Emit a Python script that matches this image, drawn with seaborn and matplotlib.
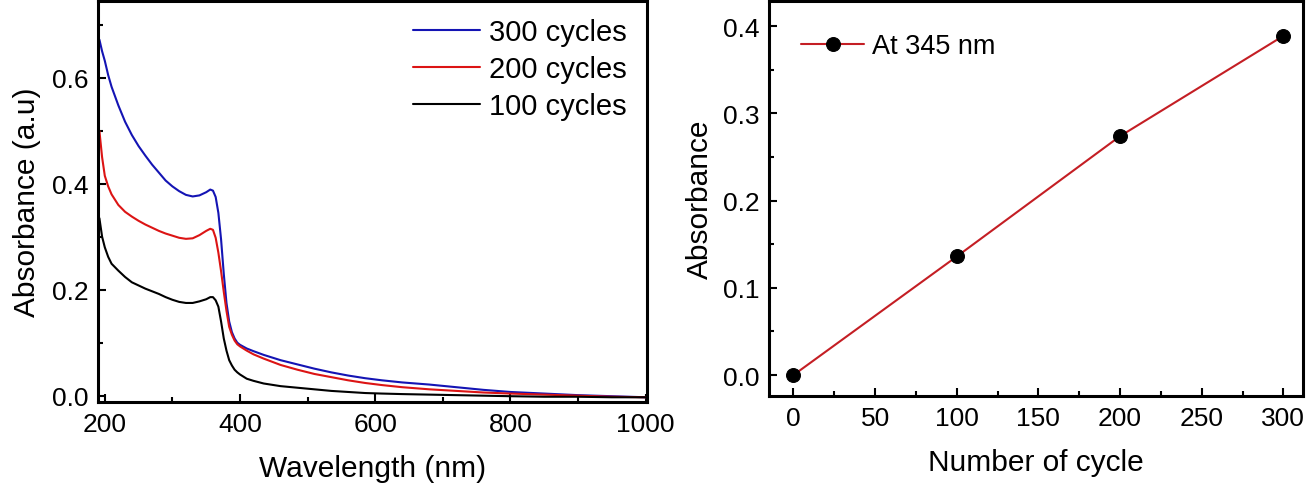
import pandas as pd
import seaborn as sns
import matplotlib.pyplot as plt
from matplotlib.ticker import MultipleLocator

# UV-vis spectra
wavelength = [192, 196, 200, 205, 210, 220, 230, 240, 250, 260, 270, 280, 290, 300,
              310, 320, 330, 340, 350, 356, 360, 364, 368, 372, 376, 380, 384, 388,
              392, 396, 400, 410, 420, 435, 460, 485, 510, 535, 560, 585, 610, 640,
              680, 720, 760, 800, 850, 900, 950, 1000]
abs_300 = [0.672, 0.65, 0.632, 0.605, 0.583, 0.548, 0.517, 0.492, 0.471, 0.453, 0.436,
           0.421, 0.406, 0.395, 0.386, 0.379, 0.376, 0.378, 0.384, 0.389, 0.387, 0.375,
           0.345, 0.295, 0.23, 0.175, 0.14, 0.12, 0.108, 0.100, 0.096, 0.089, 0.084,
           0.077, 0.067, 0.059, 0.051, 0.044, 0.038, 0.033, 0.029, 0.025, 0.021,
           0.016, 0.011, 0.007, 0.004, 0.001, -0.001, -0.003]
abs_200 = [0.50, 0.45, 0.415, 0.395, 0.38, 0.36, 0.347, 0.338, 0.33, 0.323, 0.317,
           0.311, 0.306, 0.302, 0.298, 0.296, 0.297, 0.303, 0.311, 0.315, 0.313, 0.298,
           0.27, 0.235, 0.196, 0.16, 0.13, 0.115, 0.104, 0.097, 0.093, 0.085, 0.078,
           0.07, 0.058, 0.049, 0.041, 0.035, 0.029, 0.024, 0.020, 0.016, 0.012,
           0.009, 0.006, 0.004, 0.002, 0.0, -0.002, -0.003]
abs_100 = [0.335, 0.30, 0.28, 0.262, 0.249, 0.236, 0.224, 0.214, 0.208, 0.202, 0.197,
           0.192, 0.186, 0.181, 0.177, 0.175, 0.175, 0.178, 0.182, 0.186, 0.186, 0.18,
           0.168, 0.14, 0.108, 0.085, 0.067, 0.057, 0.049, 0.044, 0.04, 0.032, 0.028,
           0.023, 0.018, 0.015, 0.012, 0.009, 0.007, 0.005, 0.004, 0.003, 0.002,
           0.001, 0.0, -0.001, -0.002, -0.002, -0.003, -0.003]
series_labels = ["300 cycles", "200 cycles", "100 cycles"]
series_colors = ["#1414b4", "#dc1414", "#000000"]

# absorbance at 345 nm vs number of cycles
cycles = [0, 100, 200, 300]
abs_345 = [0.0, 0.136, 0.274, 0.389]

sns.set_theme(style="ticks")
plt.rcParams["font.family"] = ["Liberation Sans", "DejaVu Sans"]
plt.rcParams.update({
    "xtick.direction": "in", "ytick.direction": "in",
    "xtick.major.size": 6, "ytick.major.size": 6,
    "xtick.minor.size": 3.5, "ytick.minor.size": 3.5,
    "xtick.major.width": 1.5, "ytick.major.width": 1.5,
    "xtick.minor.width": 1.5, "ytick.minor.width": 1.5,
    "axes.linewidth": 2.2, "axes.edgecolor": "black",
    "xtick.color": "black", "ytick.color": "black",
    "xtick.labelcolor": "black", "ytick.labelcolor": "black",
    "axes.labelcolor": "black", "text.color": "black",
})

df = pd.concat([
    pd.DataFrame({"Wavelength": wavelength, "Absorbance": vals, "Sample": lab})
    for lab, vals in zip(series_labels, [abs_300, abs_200, abs_100])
])

fig = plt.figure(figsize=(13.16, 4.85), dpi=100)
ax1 = fig.add_axes([0.0745, 0.169, 0.4171, 0.827])
ax2 = fig.add_axes([0.5843, 0.1814, 0.4058, 0.8145])

sns.lineplot(data=df, x="Wavelength", y="Absorbance", hue="Sample",
             hue_order=series_labels, palette=series_colors, linewidth=1.5,
             ax=ax1)
ax1.set_xlim(190, 1002)
ax1.set_ylim(-0.012, 0.745)
ax1.xaxis.set_major_locator(MultipleLocator(200))
ax1.xaxis.set_minor_locator(MultipleLocator(100))
ax1.yaxis.set_major_locator(MultipleLocator(0.2))
ax1.yaxis.set_minor_locator(MultipleLocator(0.1))
ax1.set_xlabel("Wavelength (nm)", fontsize=21.5, labelpad=13)
ax1.set_ylabel("Absorbance (a.u)", fontsize=21.5, labelpad=8)
ax1.tick_params(labelsize=19, pad=7)
ax1.legend(loc="upper right", frameon=False, fontsize=21, handlelength=2.3,
           handletextpad=0.3, labelspacing=0.3, borderaxespad=0.2,
           bbox_to_anchor=(0.995, 1.0))

sns.lineplot(x=cycles, y=abs_345, color="#c41e24", linewidth=1.5, marker="o",
             markersize=10, markerfacecolor="black", markeredgecolor="black",
             label="At 345 nm", ax=ax2)
ax2.set_xlim(-15, 312)
ax2.set_ylim(-0.024, 0.429)
ax2.xaxis.set_major_locator(MultipleLocator(50))
ax2.xaxis.set_minor_locator(MultipleLocator(25))
ax2.yaxis.set_major_locator(MultipleLocator(0.1))
ax2.yaxis.set_minor_locator(MultipleLocator(0.05))
ax2.set_xlabel("Number of cycle", fontsize=21.5, labelpad=13)
ax2.set_ylabel("Absorbance", fontsize=21.5, labelpad=6)
ax2.tick_params(labelsize=19, pad=7)
ax2.legend(loc="upper left", frameon=False, fontsize=19.5, handlelength=2.3,
           handletextpad=0.3, borderaxespad=0.8)

fig.savefig("out.png", dpi=100)
